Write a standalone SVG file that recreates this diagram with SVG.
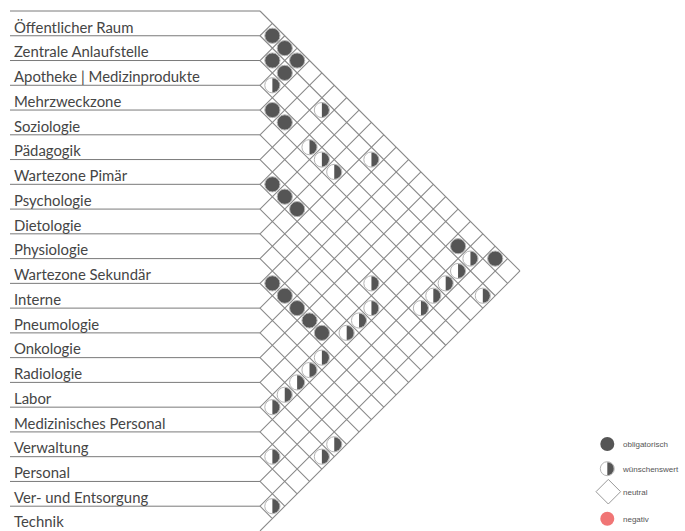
<svg xmlns="http://www.w3.org/2000/svg" xmlns:xlink="http://www.w3.org/1999/xlink" width="685" height="531" viewBox="0 0 685 531">
<style>
.lbl{font-family:Lato,"Liberation Sans",sans-serif;font-size:14.9px;fill:#454545}
.row{stroke:#7a7a7a;stroke-width:1;fill:none}
.grid{stroke:#8a8a8a;stroke-width:1.1;fill:none}
.ob{fill:#555;stroke:#b5b5b5;stroke-width:1}
.lg{font-family:"Liberation Sans",Arial,sans-serif;font-size:8px;fill:#555}
</style>
<defs>
<g id="full"><circle r="7.6" class="ob"/></g>
<g id="half"><circle r="7.6" fill="#fff" stroke="#b5b5b5" stroke-width="1"/><path d="M0,-7.1 A7.1,7.1 0 0 1 0,7.1 Z" fill="#555"/></g>
</defs>
<rect width="685" height="531" fill="#fff"/>
<g id="rows">
<path class="row" d="M10,11H260M10,35.76H260M10,60.52H260M10,85.28H260M10,110.04H260M10,134.8H260M10,159.56H260M10,184.32H260M10,209.08H260M10,233.84H260M10,258.6H260M10,283.36H260M10,308.12H260M10,332.88H260M10,357.64H260M10,382.4H260M10,407.16H260M10,431.92H260M10,456.68H260M10,481.44H260M10,506.2H260"/>
</g>
<g id="labels">
<text class="lbl" x="14" y="32.5">Öffentlicher Raum</text>
<text class="lbl" x="14" y="57.3">Zentrale Anlaufstelle</text>
<text class="lbl" x="14" y="82">Apotheke | Medizinprodukte</text>
<text class="lbl" x="14" y="106.8">Mehrzweckzone</text>
<text class="lbl" x="14" y="131.5">Soziologie</text>
<text class="lbl" x="14" y="156.3">Pädagogik</text>
<text class="lbl" x="14" y="181">Wartezone Pimär</text>
<text class="lbl" x="14" y="205.8">Psychologie</text>
<text class="lbl" x="14" y="230.6">Dietologie</text>
<text class="lbl" x="14" y="255.3">Physiologie</text>
<text class="lbl" x="14" y="280.1">Wartezone Sekundär</text>
<text class="lbl" x="14" y="304.8">Interne</text>
<text class="lbl" x="14" y="329.6">Pneumologie</text>
<text class="lbl" x="14" y="354.4">Onkologie</text>
<text class="lbl" x="14" y="379.1">Radiologie</text>
<text class="lbl" x="14" y="403.9">Labor</text>
<text class="lbl" x="14" y="428.6">Medizinisches Personal</text>
<text class="lbl" x="14" y="453.4">Verwaltung</text>
<text class="lbl" x="14" y="478.2">Personal</text>
<text class="lbl" x="14" y="502.9">Ver- und Entsorgung</text>
<text class="lbl" x="14" y="527.4">Technik</text>
</g>
<g id="connectors">
<g transform="translate(260,11) rotate(45) scale(17.508)">
<path class="grid" vector-effect="non-scaling-stroke" d="M0,0H21M1,1H21M2,2H21M3,3H21M4,4H21M5,5H21M6,6H21M7,7H21M8,8H21M9,9H21M10,10H21M11,11H21M12,12H21M13,13H21M14,14H21M15,15H21M16,16H21M17,17H21M18,18H21M19,19H21M20,20H21M1,0V1M2,0V2M3,0V3M4,0V4M5,0V5M6,0V6M7,0V7M8,0V8M9,0V9M10,0V10M11,0V11M12,0V12M13,0V13M14,0V14M15,0V15M16,0V16M17,0V17M18,0V18M19,0V19M20,0V20M21,0V21"/>
</g>
</g>
<g id="marks">
<use xlink:href="#full" x="272.38" y="35.76"/>
<use xlink:href="#full" x="284.76" y="48.14"/>
<use xlink:href="#full" x="272.38" y="60.52"/>
<use xlink:href="#full" x="297.14" y="60.52"/>
<use xlink:href="#full" x="284.76" y="72.9"/>
<use xlink:href="#full" x="272.38" y="110.04"/>
<use xlink:href="#full" x="284.76" y="122.42"/>
<use xlink:href="#full" x="272.38" y="184.32"/>
<use xlink:href="#full" x="284.76" y="196.7"/>
<use xlink:href="#full" x="297.14" y="209.08"/>
<use xlink:href="#full" x="458.08" y="246.22"/>
<use xlink:href="#full" x="495.22" y="258.6"/>
<use xlink:href="#full" x="272.38" y="283.36"/>
<use xlink:href="#full" x="284.76" y="295.74"/>
<use xlink:href="#full" x="297.14" y="308.12"/>
<use xlink:href="#full" x="309.52" y="320.5"/>
<use xlink:href="#full" x="321.9" y="332.88"/>
<use xlink:href="#half" x="272.38" y="85.28"/>
<use xlink:href="#half" x="321.9" y="110.04"/>
<use xlink:href="#half" x="309.52" y="147.18"/>
<use xlink:href="#half" x="321.9" y="159.56"/>
<use xlink:href="#half" x="371.42" y="159.56"/>
<use xlink:href="#half" x="334.28" y="171.94"/>
<use xlink:href="#half" x="470.46" y="258.6"/>
<use xlink:href="#half" x="458.08" y="270.98"/>
<use xlink:href="#half" x="445.7" y="283.36"/>
<use xlink:href="#half" x="433.32" y="295.74"/>
<use xlink:href="#half" x="420.94" y="308.12"/>
<use xlink:href="#half" x="482.84" y="295.74"/>
<use xlink:href="#half" x="371.42" y="283.36"/>
<use xlink:href="#half" x="371.42" y="308.12"/>
<use xlink:href="#half" x="359.04" y="320.5"/>
<use xlink:href="#half" x="346.66" y="332.88"/>
<use xlink:href="#half" x="321.9" y="357.64"/>
<use xlink:href="#half" x="309.52" y="370.02"/>
<use xlink:href="#half" x="297.14" y="382.4"/>
<use xlink:href="#half" x="284.76" y="394.78"/>
<use xlink:href="#half" x="272.38" y="407.16"/>
<use xlink:href="#half" x="334.28" y="444.3"/>
<use xlink:href="#half" x="321.9" y="456.68"/>
<use xlink:href="#half" x="272.38" y="456.68"/>
<use xlink:href="#half" x="272.38" y="506.2"/>
</g>
<g id="legend">
<circle cx="607.3" cy="444" r="7" fill="#555"/>
<text class="lg" x="623" y="447">obligatorisch</text>
<g transform="translate(607.3,468.7)"><circle r="7" fill="#fff" stroke="#b5b5b5"/><path d="M0,-6.5 A6.5,6.5 0 0 1 0,6.5 Z" fill="#555"/></g>
<text class="lg" x="623" y="471.7">wünschenswert</text>
<path d="M608.3,479.4L620.6,491.7L608.3,504L596,491.7Z" fill="#fff" stroke="#999" stroke-width="1"/>
<text class="lg" x="623" y="494.7">neutral</text>
<circle cx="607.3" cy="518.7" r="7" fill="#f07575"/>
<text class="lg" x="623" y="521.7">negativ</text>
</g>
</svg>
